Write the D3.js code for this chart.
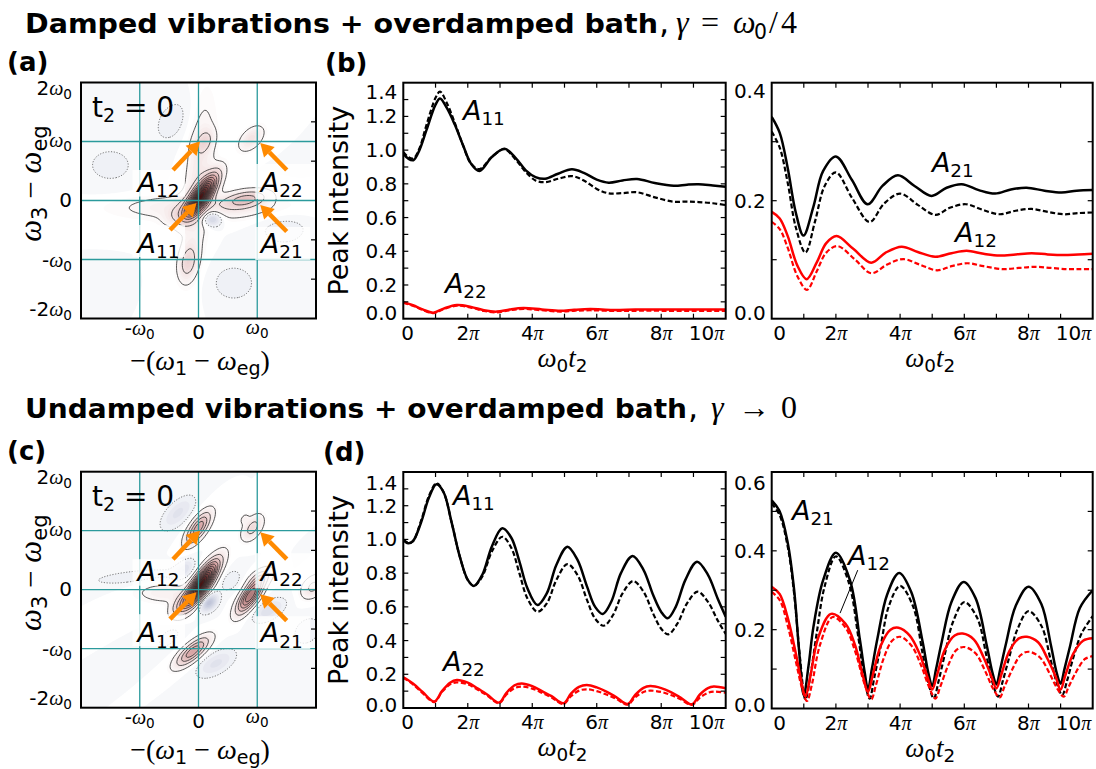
<!DOCTYPE html>
<html lang="en">
<head>
<meta charset="UTF-8">
<title>Peak intensities vs waiting time</title>
<script src="https://d3js.org/d3.v7.min.js"></script>
<style>
  body { margin: 0; background: #fff; }
  svg { display: block; }
</style>
</head>
<body>
<div id="chart"></div>
<script>
// ---------- data: peak intensity traces, t in units of pi (omega0 t2 / pi) ----------
// panel (b), left: A11 (black) and A22 (red); solid / dashed
const bA11 = [[0,0.98],[0.15,0.95],[0.31,0.94],[0.5,1.0],[0.72,1.12],[1.0,1.27],[1.14,1.307],[1.35,1.25],[1.6,1.15],[1.85,1.03],[2.1,0.92],[2.36,0.876],[2.75,0.96],[3.14,1.008],[3.5,0.95],[3.8,0.88],[4.1,0.84],[4.4,0.83],[4.8,0.86],[5.23,0.886],[5.6,0.865],[6.0,0.825],[6.37,0.807],[6.8,0.82],[7.25,0.829],[7.8,0.805],[8.39,0.789],[8.8,0.795],[9.16,0.797],[9.6,0.79],[10,0.783]];
const bA11d = [[0,0.99],[0.15,0.96],[0.31,0.95],[0.5,1.01],[0.72,1.15],[1.0,1.31],[1.14,1.347],[1.35,1.28],[1.6,1.16],[1.85,1.03],[2.1,0.92],[2.36,0.888],[2.75,0.96],[3.14,1.005],[3.5,0.94],[3.8,0.87],[4.1,0.82],[4.4,0.81],[4.8,0.83],[5.23,0.846],[5.6,0.82],[6.0,0.77],[6.37,0.744],[6.8,0.745],[7.25,0.75],[7.8,0.72],[8.39,0.694],[8.8,0.695],[9.16,0.692],[9.6,0.685],[10,0.674]];
const bA22 = [[0,0.097],[0.3,0.08],[0.6,0.055],[0.93,0.036],[1.25,0.06],[1.66,0.081],[2.1,0.07],[2.5,0.05],[2.9,0.042],[3.3,0.055],[3.73,0.063],[4.3,0.055],[4.87,0.047],[5.3,0.053],[5.8,0.057],[6.5,0.052],[7.2,0.054],[8,0.055],[9,0.054],[10,0.055]];
const bA22d = [[0,0.095],[0.3,0.077],[0.6,0.052],[0.93,0.033],[1.25,0.057],[1.66,0.077],[2.1,0.066],[2.5,0.046],[2.9,0.038],[3.3,0.05],[3.73,0.058],[4.3,0.05],[4.87,0.042],[5.3,0.047],[5.8,0.05],[6.5,0.046],[7.2,0.047],[8,0.047],[9,0.046],[10,0.046]];
// panel (b), right: A21 (black) and A12 (red)
const bA21 = [[0,0.342],[0.25,0.315],[0.5,0.255],[0.75,0.18],[0.99,0.141],[1.3,0.19],[1.6,0.25],[2.0,0.275],[2.5,0.235],[2.99,0.194],[3.45,0.225],[3.93,0.243],[4.45,0.225],[4.98,0.208],[5.45,0.222],[5.92,0.228],[6.45,0.218],[6.96,0.212],[7.45,0.219],[7.94,0.222],[8.5,0.217],[9.03,0.214],[9.5,0.217],[10,0.218]];
const bA21d = [[0,0.317],[0.25,0.29],[0.5,0.23],[0.75,0.155],[1.05,0.112],[1.35,0.165],[1.65,0.225],[2.0,0.248],[2.5,0.205],[3.05,0.164],[3.5,0.195],[4.0,0.212],[4.55,0.193],[5.1,0.176],[5.55,0.188],[6.05,0.194],[6.55,0.185],[7.1,0.177],[7.6,0.183],[8.1,0.186],[8.6,0.181],[9.1,0.177],[9.55,0.179],[10,0.180]];
const bA12 = [[0,0.181],[0.25,0.17],[0.5,0.14],[0.8,0.09],[1.09,0.067],[1.4,0.095],[1.7,0.128],[2.02,0.140],[2.55,0.118],[3.1,0.095],[3.55,0.112],[4.05,0.122],[4.55,0.113],[5.09,0.105],[5.6,0.111],[6.07,0.115],[6.6,0.11],[7.1,0.107],[7.6,0.109],[8.1,0.111],[8.6,0.109],[9.1,0.108],[9.55,0.109],[10,0.110]];
const bA12d = [[0,0.164],[0.25,0.152],[0.5,0.12],[0.8,0.072],[1.1,0.049],[1.4,0.08],[1.7,0.112],[2.05,0.123],[2.6,0.10],[3.1,0.077],[3.6,0.092],[4.1,0.101],[4.6,0.092],[5.15,0.082],[5.6,0.089],[6.1,0.094],[6.6,0.089],[7.2,0.084],[7.7,0.086],[8.2,0.088],[8.7,0.086],[9.2,0.084],[9.6,0.084],[10,0.084]];
// panel (d), left
const dA11 = [[0,0.997],[0.15,0.977],[0.3,0.99],[0.55,1.1],[0.8,1.25],[1.03,1.327],[1.25,1.28],[1.5,1.1],[1.75,0.9],[2.0,0.76],[2.19,0.724],[2.45,0.79],[2.75,0.96],[3.07,1.066],[3.35,1.01],[3.6,0.87],[3.85,0.71],[4.16,0.611],[4.45,0.68],[4.75,0.85],[5.09,0.957],[5.4,0.88],[5.7,0.72],[5.95,0.6],[6.19,0.558],[6.45,0.63],[6.75,0.8],[7.11,0.902],[7.45,0.82],[7.75,0.67],[8.0,0.57],[8.2,0.532],[8.45,0.6],[8.75,0.76],[9.11,0.868],[9.45,0.79],[9.75,0.65],[10,0.542]];
const dA11d = [[0,1.0],[0.15,0.98],[0.3,0.99],[0.55,1.11],[0.8,1.26],[1.03,1.333],[1.25,1.28],[1.5,1.1],[1.75,0.9],[2.0,0.76],[2.19,0.724],[2.45,0.78],[2.75,0.93],[3.07,1.016],[3.35,0.95],[3.6,0.8],[3.85,0.65],[4.16,0.571],[4.45,0.62],[4.75,0.76],[5.09,0.854],[5.4,0.79],[5.7,0.64],[5.95,0.53],[6.22,0.488],[6.5,0.55],[6.8,0.68],[7.13,0.753],[7.45,0.69],[7.75,0.56],[8.0,0.47],[8.22,0.437],[8.5,0.5],[8.8,0.62],[9.13,0.69],[9.45,0.63],[9.75,0.52],[10,0.439]];
const dA22 = [[0,0.182],[0.3,0.145],[0.6,0.095],[0.96,0.038],[1.2,0.1],[1.45,0.15],[1.66,0.166],[2.0,0.15],[2.3,0.117],[2.6,0.08],[2.97,0.032],[3.2,0.09],[3.45,0.135],[3.67,0.146],[4.0,0.13],[4.3,0.1],[4.6,0.07],[4.97,0.028],[5.2,0.085],[5.45,0.125],[5.69,0.136],[6.0,0.122],[6.3,0.097],[6.6,0.065],[6.96,0.024],[7.2,0.08],[7.45,0.12],[7.66,0.13],[8.0,0.118],[8.3,0.094],[8.6,0.062],[8.95,0.022],[9.2,0.08],[9.45,0.118],[9.63,0.127],[10,0.117]];
const dA22d = [[0,0.18],[0.3,0.14],[0.6,0.088],[0.96,0.035],[1.2,0.095],[1.45,0.14],[1.66,0.152],[2.0,0.14],[2.3,0.11],[2.6,0.074],[2.97,0.028],[3.2,0.08],[3.45,0.118],[3.67,0.127],[4.0,0.115],[4.3,0.09],[4.6,0.062],[4.97,0.024],[5.2,0.07],[5.45,0.103],[5.69,0.111],[6.0,0.1],[6.3,0.08],[6.6,0.055],[6.96,0.02],[7.2,0.065],[7.45,0.095],[7.66,0.103],[8.0,0.095],[8.3,0.077],[8.6,0.052],[8.95,0.018],[9.2,0.062],[9.45,0.09],[9.63,0.097],[10,0.091]];
// panel (d), right
const dA21 = [[0,0.528],[0.25,0.5],[0.5,0.42],[0.7,0.3],[0.85,0.15],[1.0,0.034],[1.15,0.11],[1.3,0.207],[1.6,0.325],[2.0,0.395],[2.44,0.325],[2.75,0.173],[2.9,0.09],[3.0,0.048],[3.12,0.1],[3.3,0.18],[3.6,0.29],[3.97,0.344],[4.35,0.295],[4.7,0.17],[4.88,0.09],[5.0,0.057],[5.12,0.1],[5.3,0.17],[5.6,0.27],[5.98,0.321],[6.35,0.28],[6.7,0.16],[6.88,0.09],[7.0,0.061],[7.12,0.1],[7.3,0.165],[7.6,0.26],[8.0,0.309],[8.4,0.265],[8.7,0.16],[8.88,0.09],[9.0,0.063],[9.12,0.1],[9.3,0.16],[9.6,0.255],[10,0.30]];
const dA21d = [[0,0.52],[0.25,0.49],[0.5,0.41],[0.7,0.29],[0.88,0.13],[1.05,0.023],[1.2,0.08],[1.4,0.19],[1.65,0.31],[2.0,0.386],[2.4,0.32],[2.7,0.18],[2.9,0.07],[3.05,0.025],[3.2,0.08],[3.4,0.16],[3.65,0.26],[4.0,0.311],[4.4,0.26],[4.7,0.14],[4.9,0.06],[5.05,0.025],[5.2,0.07],[5.4,0.14],[5.65,0.22],[6.0,0.27],[6.4,0.23],[6.7,0.13],[6.9,0.06],[7.05,0.03],[7.2,0.07],[7.4,0.13],[7.65,0.2],[8.0,0.247],[8.4,0.21],[8.7,0.12],[8.9,0.06],[9.05,0.034],[9.2,0.07],[9.4,0.13],[9.65,0.19],[10,0.234]];
const dA12 = [[0,0.309],[0.25,0.29],[0.5,0.23],[0.75,0.14],[0.92,0.07],[1.05,0.03],[1.2,0.08],[1.45,0.18],[1.85,0.24],[2.3,0.215],[2.6,0.16],[2.85,0.08],[3.0,0.042],[3.15,0.085],[3.4,0.16],[3.7,0.2],[3.95,0.205],[4.3,0.185],[4.6,0.14],[4.85,0.08],[5.0,0.048],[5.15,0.085],[5.4,0.15],[5.7,0.185],[5.95,0.19],[6.3,0.175],[6.6,0.13],[6.85,0.08],[7.0,0.051],[7.15,0.085],[7.4,0.145],[7.7,0.178],[7.95,0.182],[8.3,0.168],[8.6,0.125],[8.85,0.08],[9.0,0.048],[9.15,0.085],[9.4,0.14],[9.7,0.172],[10,0.178]];
const dA12d = [[0,0.296],[0.25,0.275],[0.5,0.21],[0.75,0.12],[0.95,0.05],[1.1,0.019],[1.25,0.06],[1.5,0.16],[1.9,0.232],[2.3,0.205],[2.6,0.145],[2.9,0.06],[3.1,0.023],[3.25,0.06],[3.5,0.13],[3.75,0.172],[4.0,0.182],[4.35,0.16],[4.65,0.11],[4.9,0.055],[5.1,0.025],[5.25,0.055],[5.5,0.11],[5.75,0.148],[6.0,0.156],[6.35,0.14],[6.65,0.095],[6.9,0.05],[7.1,0.028],[7.25,0.055],[7.5,0.1],[7.75,0.135],[8.0,0.144],[8.35,0.13],[8.65,0.09],[8.9,0.05],[9.1,0.03],[9.25,0.055],[9.5,0.095],[9.75,0.125],[10,0.133]];

const piTicks = [0, 2, 4, 6, 8, 10];
const piLabels = ["0", "2", "4", "6", "8", "10"];

// ---------- data: 2D spectra at t2 = 0, peaks as [x0, y0, amplitude, sMajor, sMinor, angle(deg)] in omega0 units ----------
const peaksA = [
  [0.05, 0.08, 0.85, 0.26, 0.09, 55],
  [0.0, 0.3, 0.08, 0.9, 0.16, 85],
  [0.1, -0.12, 0.07, 1.0, 0.15, 0],
  [-0.3, -0.22, 0.08, 0.2, 0.1, 30],
  [0.1, 1.0, 0.1, 0.14, 0.09, 60],
  [0.9, 1.05, 0.1, 0.17, 0.1, 45],
  [0.8, 0.02, 0.2, 0.24, 0.09, 10],
  [-0.18, -1.05, 0.13, 0.2, 0.1, 80],
  [0.22, -0.3, -0.12, 0.12, 0.09, 0],
  [-0.45, 1.35, -0.025, 0.3, 0.2, 60],
  [1.45, -0.45, -0.025, 0.35, 0.25, 0],
  [0.6, -1.4, -0.025, 0.3, 0.25, 0],
  [-1.5, 0.6, -0.02, 0.4, 0.3, 0]
];
const peaksC = [
  [0.05, 0.1, 0.95, 0.28, 0.085, 55],
  [-0.3, -0.25, 0.15, 0.15, 0.08, 45],
  [0.18, -0.22, -0.12, 0.12, 0.08, 45],
  [-0.25, 0.35, -0.05, 0.15, 0.08, 45],
  [0.0, 1.05, 0.32, 0.2, 0.08, 55],
  [-0.35, 1.3, -0.05, 0.25, 0.12, 45],
  [0.92, 1.05, 0.13, 0.16, 0.09, 55],
  [0.78, 1.2, 0.05, 0.06, 0.04, 60],
  [0.88, -0.1, 0.5, 0.22, 0.08, 55],
  [1.05, 0.2, 0.1, 0.15, 0.08, 30],
  [1.2, -0.35, -0.06, 0.2, 0.1, 30],
  [0.55, 0.15, -0.03, 0.15, 0.1, 45],
  [-0.1, -1.05, 0.32, 0.22, 0.08, 40],
  [0.3, -1.25, -0.05, 0.25, 0.12, 30],
  [-0.5, -0.8, -0.025, 0.2, 0.1, 45],
  [-1.0, 0.22, -0.025, 0.7, 0.1, 5],
  [-0.55, -0.05, 0.06, 0.35, 0.12, 0],
  [1.95, 0.05, 0.12, 0.15, 0.1, 45],
  [1.85, -0.7, -0.03, 0.2, 0.15, 45]
];
const posLevels = [0.03, 0.1, 0.18, 0.26, 0.34, 0.42, 0.5, 0.58, 0.66, 0.74, 0.82, 0.9];
const negLevels = [-0.015];

const SANS = "DejaVu Sans, Liberation Sans, sans-serif";
const SERIF = "Liberation Serif, DejaVu Serif, serif";

const svg = d3.select("#chart").append("svg")
  .attr("width", 1096).attr("height", 769)
  .style("background", "#fff");

// rich text: parts = [[text, style]], style: m (serif italic), r (serif), s (sans), si (sans oblique); trailing "_" = subscript
function rich(sel, parts, size) {
  let cur = 0;
  parts.forEach(([t, st]) => {
    const sub = st.endsWith("_");
    const base = sub ? st.slice(0, -1) : st;
    const want = sub ? size * 0.2 : 0;
    sel.append("tspan").text(t)
      .attr("dy", want - cur)
      .style("font-size", (sub ? size * 0.68 : size) + "px")
      .style("font-family", (base === "m" || base === "r") ? SERIF : SANS)
      .style("font-style", (base === "m" || base === "si") ? "italic" : "normal");
    cur = want;
  });
  return sel;
}

function aLabel(g, x, y, sub) {
  const t = g.append("text").attr("x", x).attr("y", y).attr("fill", "#000");
  rich(t, [["A", "si"], [sub, "s_"]], 27);
}

// ---------- titles ----------
svg.append("text").attr("x", 25).attr("y", 33)
  .attr("textLength", 633).attr("lengthAdjust", "spacingAndGlyphs")
  .style("font-family", SANS).style("font-weight", "bold").style("font-size", "27px")
  .text("Damped vibrations + overdamped bath");
[[",", 659, "s"], ["\u03b3", 676, "m"], ["=", 701, "r"], ["\u03c9", 733, "m"], ["/", 769, "r"], ["4", 781, "r"]]
  .forEach(([t, x, st]) => {
    rich(svg.append("text").attr("x", x).attr("y", 33), [[t, st]], 32);
  });
rich(svg.append("text").attr("x", 754).attr("y", 33), [["0", "s_"]], 30);

svg.append("text").attr("x", 25).attr("y", 418)
  .attr("textLength", 662).attr("lengthAdjust", "spacingAndGlyphs")
  .style("font-family", SANS).style("font-weight", "bold").style("font-size", "27px")
  .text("Undamped vibrations + overdamped bath");
[[",", 688, "s"], ["\u03b3", 711, "m"], ["\u2192", 738, "r"], ["0", 781, "r"]]
  .forEach(([t, x, st]) => {
    rich(svg.append("text").attr("x", x).attr("y", 418), [[t, st]], 32);
  });

// panel letters
[["(a)", 7, 71], ["(b)", 325, 72], ["(c)", 7, 460], ["(d)", 323, 461]].forEach(([t, x, y]) => {
  svg.append("text").attr("x", x).attr("y", y)
    .style("font-family", SANS).style("font-weight", "bold").style("font-size", "26px").text(t);
});

// ---------- 2D spectrum panels ----------
function field(peaks, x, y) {
  let s = 0;
  for (const [x0, y0, a, su, sv, ang] of peaks) {
    const th = ang * Math.PI / 180;
    const dx = x - x0, dy = y - y0;
    const u = dx * Math.cos(th) + dy * Math.sin(th);
    const v = -dx * Math.sin(th) + dy * Math.cos(th);
    s += a * Math.exp(-0.5 * (u * u / (su * su) + v * v / (sv * sv)));
  }
  return s;
}

const fillColor = d3.scaleLinear()
  .domain([-0.2, 0, 0.3, 1])
  .range(["#979fc0", "#ffffff", "#d9a6a6", "#380606"])
  .clamp(true);

function spectrum(peaks, top, id) {
  const x = d3.scaleLinear().domain([-2, 2]).range([81, 316]);
  const y = d3.scaleLinear().domain([-2, 2]).range([top + 236, top]);
  const g = svg.append("g");
  g.append("clipPath").attr("id", id).append("rect")
    .attr("x", 81).attr("y", top).attr("width", 235).attr("height", 236);
  const n = 140;
  const vals = new Float64Array(n * n);
  for (let j = 0; j < n; j++)
    for (let i = 0; i < n; i++)
      vals[j * n + i] = field(peaks, -2 + 4 * (i + 0.5) / n, 2 - 4 * (j + 0.5) / n);
  const proj = d3.geoTransform({
    point(px, py) { this.stream.point(x(-2 + 4 * px / n), y(2 - 4 * py / n)); }
  });
  const path = d3.geoPath(proj);
  const plot = g.append("g").attr("clip-path", `url(#${id})`);
  plot.append("rect").attr("x", 81).attr("y", top).attr("width", 235).attr("height", 236).attr("fill", "#fff");

  const bands = d3.range(-0.3, 1.0, 0.015);
  plot.selectAll("path.band")
    .data(d3.contours().size([n, n]).thresholds(bands)(vals))
    .join("path").attr("class", "band")
    .attr("d", path).attr("fill", d => fillColor(d.value)).attr("stroke", "none");

  plot.selectAll("path.pos")
    .data(d3.contours().size([n, n]).thresholds(posLevels)(vals))
    .join("path").attr("class", "pos")
    .attr("d", path).attr("fill", "none").attr("stroke", "#2a2a2a").attr("stroke-width", 0.8);

  // negative contours are found on the sign-flipped field
  const neg = vals.map(v => -v);
  plot.selectAll("path.neg")
    .data(d3.contours().size([n, n]).thresholds(negLevels.map(v => -v))(neg))
    .join("path").attr("class", "neg")
    .attr("d", path).attr("fill", "none").attr("stroke", "#555")
    .attr("stroke-width", 0.8).attr("stroke-dasharray", "1.2,1.6");

  // reference lines at -w0, 0, w0
  [-1, 0, 1].forEach(v => {
    plot.append("line").attr("x1", x(v)).attr("x2", x(v)).attr("y1", top).attr("y2", top + 236)
      .attr("stroke", "#2b9a9c").attr("stroke-width", 1.3);
    plot.append("line").attr("y1", y(v)).attr("y2", y(v)).attr("x1", 81).attr("x2", 316)
      .attr("stroke", "#2b9a9c").attr("stroke-width", 1.3);
  });

  // label boxes and arrows (offsets in px from each peak)
  const marks = [
    { sub: "12", px: 0, py: 1, box: [-66, 28.5, 52.5, 26.5], tx: -61, ty: 50, tail: [-25.5, 28.5], tip: [1.5, 0] },
    { sub: "22", px: 1, py: 1, box: [-2, 22.5, 60, 35], tx: 3.5, ty: 50, tail: [29.5, 28.5], tip: [3, 1.5] },
    { sub: "11", px: 0, py: 0, box: [-66, 24.5, 52.5, 32], tx: -61, ty: 52.5, tail: [-28.5, 29.5], tip: [-2, 2.5] },
    { sub: "21", px: 1, py: 0, box: [-2, 26.5, 55, 33], tx: 3.5, ty: 52.5, tail: [29.5, 31], tip: [3, 4.5] }
  ];
  marks.forEach(m => {
    const cx = x(m.px), cy = y(m.py);
    plot.append("rect").attr("x", cx + m.box[0]).attr("y", cy + m.box[1])
      .attr("width", m.box[2]).attr("height", m.box[3])
      .attr("fill", "#fff").attr("fill-opacity", 0.8);
    aLabel(plot, cx + m.tx, cy + m.ty, m.sub);
    const x1 = cx + m.tail[0], y1 = cy + m.tail[1], x2 = cx + m.tip[0], y2 = cy + m.tip[1];
    const ang = Math.atan2(y2 - y1, x2 - x1), hl = 13, hw = 7.5;
    const bx = x2 - hl * Math.cos(ang), by = y2 - hl * Math.sin(ang);
    plot.append("line").attr("x1", x1).attr("y1", y1).attr("x2", bx).attr("y2", by)
      .attr("stroke", "#ff8a00").attr("stroke-width", 4.5);
    plot.append("path")
      .attr("d", `M${x2},${y2}L${bx + hw * Math.sin(ang)},${by - hw * Math.cos(ang)}L${bx - hw * Math.sin(ang)},${by + hw * Math.cos(ang)}Z`)
      .attr("fill", "#ff8a00");
  });

  // t2 = 0
  rich(g.append("text").attr("x", 92).attr("y", top + 34), [["t", "s"], ["2", "s_"], [" = 0", "s"]], 28);

  // frame and right-side ticks
  g.append("rect").attr("x", 81).attr("y", top).attr("width", 235).attr("height", 236)
    .attr("fill", "none").attr("stroke", "#000").attr("stroke-width", 2);
  [-4 / 3, -2 / 3, 2 / 3, 4 / 3].forEach(v => {
    g.append("line").attr("x1", 316).attr("x2", 311).attr("y1", y(v)).attr("y2", y(v))
      .attr("stroke", "#000").attr("stroke-width", 1.2);
  });

  // y tick labels
  const yl = [[2, [["2", "s"], ["\u03c9", "m"], ["0", "s_"]], 12],
              [1, [["\u03c9", "m"], ["0", "s_"]], 5],
              [0, [["0", "s"]], 6.5],
              [-1, [["-", "s"], ["\u03c9", "m"], ["0", "s_"]], 7.5],
              [-2, [["-2", "s"], ["\u03c9", "m"], ["0", "s_"]], -2.5]];
  yl.forEach(([v, parts, dy]) => {
    rich(g.append("text").attr("x", 72).attr("y", y(v) + dy).attr("text-anchor", "end"), parts, 20);
  });
  const xl = [[-1, [["-", "s"], ["\u03c9", "m"], ["0", "s_"]], 335],
              [0, [["0", "s"]], 339],
              [1, [["\u03c9", "m"], ["0", "s_"]], 334]];
  xl.forEach(([v, parts, yy]) => {
    rich(g.append("text").attr("x", x(v)).attr("y", yy - 82.5 + top).attr("text-anchor", "middle"), parts, 20);
  });

  // axis titles
  rich(g.append("text").attr("transform", `translate(41,${top + 101}) rotate(-90)`).attr("text-anchor", "middle"),
    [["\u03c9", "m"], ["3", "s_"], [" \u2212 ", "r"], ["\u03c9", "m"], ["eg", "s_"]], 31);
  rich(g.append("text").attr("x", 200).attr("y", top + 287).attr("text-anchor", "middle"),
    [["\u2212(", "r"], ["\u03c9", "m"], ["1", "s_"], [" \u2212 ", "r"], ["\u03c9", "m"], ["eg", "s_"], [")", "r"]], 28);
}

spectrum(peaksA, 82.5, "clipA");
spectrum(peaksC, 471.7, "clipC");

// ---------- line panels ----------
const curve = d3.curveCatmullRom.alpha(0.5);

function linePanel(o) {
  const x = d3.scaleLinear().domain([0, 10]).range([o.left, o.right]);
  const y = d3.scaleLinear().domain(o.yDomain).range([o.bottom, o.top]);
  const g = svg.append("g");
  g.append("clipPath").attr("id", o.id).append("rect")
    .attr("x", o.left).attr("y", o.top).attr("width", o.right - o.left).attr("height", o.bottom - o.top);
  const plot = g.append("g").attr("clip-path", `url(#${o.id})`);
  const line = d3.line().x(d => x(d[0])).y(d => y(d[1])).curve(curve);
  o.series.forEach(s => {
    plot.append("path").datum(s.data).attr("d", line)
      .attr("fill", "none").attr("stroke", s.color)
      .attr("stroke-width", s.dash ? 2.2 : 2.5)
      .attr("stroke-dasharray", s.dash ? "5,2.5" : null);
  });

  // ticks, inward, all four sides
  const tk = g.append("g").attr("stroke", "#000").attr("stroke-width", 1.2);
  d3.range(1, 10).forEach(v => {
    tk.append("line").attr("x1", x(v)).attr("x2", x(v)).attr("y1", o.bottom).attr("y2", o.bottom - 5);
    tk.append("line").attr("x1", x(v)).attr("x2", x(v)).attr("y1", o.top).attr("y2", o.top + 5);
  });
  o.yMinor.forEach(v => {
    tk.append("line").attr("y1", y(v)).attr("y2", y(v)).attr("x1", o.left).attr("x2", o.left + 5);
    tk.append("line").attr("y1", y(v)).attr("y2", y(v)).attr("x1", o.right).attr("x2", o.right - 5);
  });
  g.append("rect").attr("x", o.left).attr("y", o.top)
    .attr("width", o.right - o.left).attr("height", o.bottom - o.top)
    .attr("fill", "none").attr("stroke", "#000").attr("stroke-width", 2);

  // y tick labels
  o.yTicks.forEach((v, i) => {
    let yy = y(v) + 7;
    if (i === o.yTicks.length - 1) yy = o.top + o.topNudge;
    if (i === 0) yy = o.bottom + o.botNudge;
    g.append("text").attr("x", o.left - 6).attr("y", yy).attr("text-anchor", "end")
      .style("font-family", SANS).style("font-size", "20px").text(d3.format(".1f")(v));
  });
  // x tick labels
  piTicks.forEach((v, i) => {
    const t = g.append("text").attr("y", o.bottom + 21);
    if (i === 0) t.attr("x", o.left + o.zeroNudge).attr("text-anchor", "start");
    else if (i === piTicks.length - 1) t.attr("x", o.right - 1.5).attr("text-anchor", "end");
    else t.attr("x", x(v)).attr("text-anchor", "middle");
    const parts = [[piLabels[i], "s"]];
    if (v !== 0) parts.push(["\u03c0", "m"]);
    rich(t, parts, 20);
  });
  rich(g.append("text").attr("x", (o.left + o.right) / 2 - 2).attr("y", o.bottom + 48).attr("text-anchor", "middle"),
    [["\u03c9", "m"], ["0", "s_"], ["t", "m"], ["2", "s_"]], 27);

  if (o.yTitle) {
    g.append("text").attr("transform", `translate(348,${(o.top + o.bottom) / 2}) rotate(-90)`)
      .attr("text-anchor", "middle").style("font-family", SANS).style("font-size", "27px")
      .text("Peak intensity");
  }
  o.labels.forEach(([t, v, sub]) => aLabel(g, x(t), y(v), sub));
  if (o.leader) {
    const [a, b] = o.leader;
    g.append("line").attr("x1", x(a[0])).attr("y1", y(a[1])).attr("x2", x(b[0])).attr("y2", y(b[1]))
      .attr("stroke", "#000").attr("stroke-width", 1);
  }
}

const black = "#000", red = "#ff0000";
linePanel({ id: "cb1", left: 403.3, right: 725.7, top: 82.7, bottom: 318.7, yDomain: [0, 1.4],
  yTicks: [0, 0.2, 0.4, 0.6, 0.8, 1.0, 1.2, 1.4], yMinor: d3.range(1, 14).map(k => k / 10),
  topNudge: 16.5, botNudge: 1.5, zeroNudge: -2, yTitle: true,
  series: [{ data: bA11d, color: black, dash: true }, { data: bA11, color: black },
           { data: bA22d, color: red, dash: true }, { data: bA22, color: red }],
  labels: [[1.85, 1.18, "11"], [1.29, 0.154, "22"]] });
linePanel({ id: "cb2", left: 771.7, right: 1092.7, top: 82.7, bottom: 318.7, yDomain: [0, 0.4],
  yTicks: [0, 0.2, 0.4], yMinor: [0.1, 0.2, 0.3],
  topNudge: 15.5, botNudge: 1.5, zeroNudge: 1.5,
  series: [{ data: bA21d, color: black, dash: true }, { data: bA21, color: black },
           { data: bA12d, color: red, dash: true }, { data: bA12, color: red }],
  labels: [[4.99, 0.249, "21"], [5.71, 0.1305, "12"]] });
linePanel({ id: "cd1", left: 403.3, right: 725.7, top: 472, bottom: 708, yDomain: [0, 1.4],
  yTicks: [0, 0.2, 0.4, 0.6, 0.8, 1.0, 1.2, 1.4], yMinor: d3.range(1, 14).map(k => k / 10),
  topNudge: 17.5, botNudge: 3.5, zeroNudge: -2, yTitle: true,
  series: [{ data: dA11d, color: black, dash: true }, { data: dA11, color: black },
           { data: dA22d, color: red, dash: true }, { data: dA22, color: red }],
  labels: [[1.54, 1.204, "11"], [1.23, 0.219, "22"]] });
linePanel({ id: "cd2", left: 771.7, right: 1092.7, top: 472, bottom: 708.5, yDomain: [0, 0.6],
  yTicks: [0, 0.2, 0.4, 0.6], yMinor: [0.1, 0.2, 0.3, 0.4, 0.5],
  topNudge: 17.5, botNudge: 3.5, zeroNudge: 1.5,
  series: [{ data: dA21d, color: black, dash: true }, { data: dA21, color: black },
           { data: dA12d, color: red, dash: true }, { data: dA12, color: red }],
  labels: [[0.63, 0.478, "21"], [2.38, 0.364, "12"]],
  leader: [[2.68, 0.351], [2.13, 0.242]] });
</script>
</body>
</html>
